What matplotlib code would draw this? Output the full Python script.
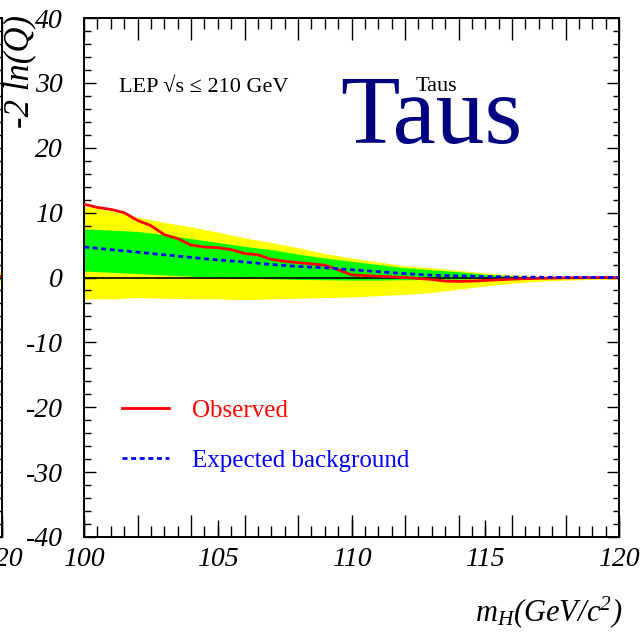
"""-2 ln(Q) vs Higgs mass, LEP taus channel."""

import matplotlib
matplotlib.use("Agg")
import matplotlib.pyplot as plt
from matplotlib.ticker import MultipleLocator, NullLocator

plt.rcParams["font.family"] = ["Liberation Serif", "DejaVu Serif"]
plt.rcParams["font.style"] = "italic"
plt.rcParams["axes.unicode_minus"] = False
plt.rcParams["mathtext.fontset"] = "custom"
plt.rcParams["mathtext.rm"] = "Liberation Serif:italic"
plt.rcParams["mathtext.it"] = "Liberation Serif:italic"

# mass points (GeV/c^2)
mass = [100, 101, 102, 103, 104, 105, 106, 107, 108, 109, 110,
        111, 112, 113, 114, 115, 116, 117, 118, 119, 120]
expected = [4.7, 4.3, 3.9, 3.5, 3.1, 2.7, 2.4, 2.0, 1.7, 1.5, 1.2,
            0.9, 0.6, 0.35, 0.25, 0.15, 0.07, 0.04, 0.02, 0.01, 0.0]
sigma1_hi = [7.5, 7.3, 7.1, 6.6, 6.0, 5.4, 4.8, 4.3, 3.6, 3.0, 2.5,
             2.0, 1.5, 1.2, 0.9, 0.5, 0.25, 0.12, 0.06, 0.03, 0.0]
sigma1_lo = [1.0, 0.8, 0.6, 0.4, 0.2, 0.0, -0.1, -0.2, -0.3, -0.35, -0.4,
             -0.4, -0.35, -0.3, -0.25, -0.2, -0.12, -0.08, -0.04, -0.02, 0.0]
sigma2_hi = [11.0, 10.3, 9.3, 8.5, 7.8, 7.0, 6.1, 5.4, 4.6, 3.7, 3.0,
             2.4, 1.8, 1.5, 1.1, 0.7, 0.4, 0.2, 0.1, 0.05, 0.02]
sigma2_lo = [-3.3, -3.3, -3.1, -3.2, -3.3, -3.3, -3.4, -3.3, -3.2, -3.1, -3.0,
             -2.8, -2.6, -2.3, -1.8, -1.3, -0.9, -0.6, -0.4, -0.3, -0.25]

obs_mass = [100, 100.5, 101, 101.5, 102, 102.5, 103, 103.5, 104, 104.5, 105,
            105.5, 106, 106.5, 107, 107.5, 108, 108.5, 109, 109.5, 110,
            110.5, 111, 112, 113, 113.5, 114, 114.5, 115, 116, 117, 118, 119, 120]
observed = [11.3, 10.8, 10.5, 10.0, 8.8, 8.0, 6.6, 6.0, 5.0, 4.7, 4.6,
            4.3, 3.7, 3.5, 2.8, 2.5, 2.3, 2.1, 1.9, 1.2, 0.4,
            0.3, 0.2, 0.0, -0.3, -0.55, -0.6, -0.55, -0.45, -0.25, -0.12, -0.05, -0.02, 0.0]

# the edge of the neighbouring panel that is cut off on the left
nb_mass = [119, 120]
nb_sigma2_hi = [1.0, 0.9]
nb_sigma2_lo = [-0.9, -0.8]
nb_sigma1_hi = [0.5, 0.4]
nb_sigma1_lo = [-0.3, -0.3]
nb_observed = [0.2, 0.2]

label_ticks = [100, 105, 110, 115, 120]
nb_label_ticks = [120]

YELLOW = "#ffff00"
GREEN = "#00ff00"
PX = 72 / 100  # points per pixel


def style_axes(ax, ticks, ylabels=True):
    ax.set_xlim(100, 120)
    ax.set_ylim(-40, 40)
    for sp in ax.spines.values():
        sp.set_linewidth(1.4)
    ax.xaxis.set_major_locator(MultipleLocator(2))
    ax.xaxis.set_minor_locator(MultipleLocator(0.5))
    ax.yaxis.set_major_locator(MultipleLocator(10))
    ax.yaxis.set_minor_locator(MultipleLocator(2))
    ax.tick_params(axis="both", which="both", direction="in",
                   top=True, right=True, width=1.0)
    ax.tick_params(axis="x", which="major", length=22 * PX,
                   labelbottom=False)
    ax.tick_params(axis="x", which="minor", length=11 * PX)
    ax.tick_params(axis="y", which="major", length=12 * PX,
                   labelsize=20, pad=21 * PX, labelleft=ylabels)
    ax.tick_params(axis="y", which="minor", length=6.5 * PX)

    sec = ax.secondary_xaxis("bottom")
    sec.set_xticks(ticks)
    sec.xaxis.set_minor_locator(NullLocator())
    sec.tick_params(direction="in", length=17 * PX, width=1.0,
                    labelsize=20, pad=10 * PX)
    sec.spines["bottom"].set_visible(False)
    return sec


fig = plt.figure(figsize=(6.44, 6.34), dpi=100)

# neighbouring panel, only its right edge is inside the picture
nb = fig.add_axes([1.5 / 644 - 535 / 644, 1 - 537 / 634, 535 / 644, 519 / 634])
nb.fill_between(nb_mass, nb_sigma2_lo, nb_sigma2_hi, color=YELLOW, lw=0)
nb.fill_between(nb_mass, nb_sigma1_lo, nb_sigma1_hi, color=GREEN, lw=0)
nb.plot(nb_mass, nb_observed, color="red", lw=2)
style_axes(nb, nb_label_ticks, ylabels=False)

ax = fig.add_axes([84 / 644, 1 - 537 / 634, 535 / 644, 519 / 634])
ax.fill_between(mass, sigma2_lo, sigma2_hi, color=YELLOW, lw=0, zorder=1)
ax.fill_between(mass, sigma1_lo, sigma1_hi, color=GREEN, lw=0, zorder=2)
ax.axhline(0, color="black", lw=1.2, zorder=3)
ax.plot(obs_mass, observed, color="#ff0000", lw=2.0, zorder=4,
        label="Observed")
ax.plot(mass, expected, color="#0000ff", lw=2.0, ls=(0, (1.8, 1.3)),
        zorder=5, label="Expected background")
style_axes(ax, label_ticks)

ax.set_ylabel("-2 ln(Q)", fontsize=25, loc="top")
ax.yaxis.set_label_coords(-0.12, 1.006)
ax.yaxis.label.set_va("center")

ax.set_xlabel(r"$m_H$(GeV/c$^2$)", fontsize=22, loc="right")
ax.xaxis.set_label_coords(1.006, -0.162)
ax.xaxis.label.set_va("baseline")

ax.text(0.065, 0.857, "LEP \u221as \u2264 210 GeV", transform=ax.transAxes,
        fontsize=16, style="normal", ha="left", va="baseline")
ax.text(0.6206, 0.859, "Taus", transform=ax.transAxes,
        fontsize=16, style="normal", ha="left", va="baseline")
ax.text(0.4785, 0.759, "Taus", transform=ax.transAxes,
        fontsize=70, style="normal", color="#000080",
        ha="left", va="baseline")

leg = ax.legend(loc="center left", bbox_to_anchor=(0.071, 0.196),
                frameon=False, borderpad=0, borderaxespad=0,
                handlelength=1.9, handletextpad=0.9, labelspacing=1.1,
                labelcolor="linecolor",
                prop={"family": "Liberation Serif", "style": "normal",
                      "size": 18})

fig.savefig("out.png", dpi=100)
plt.close(fig)
